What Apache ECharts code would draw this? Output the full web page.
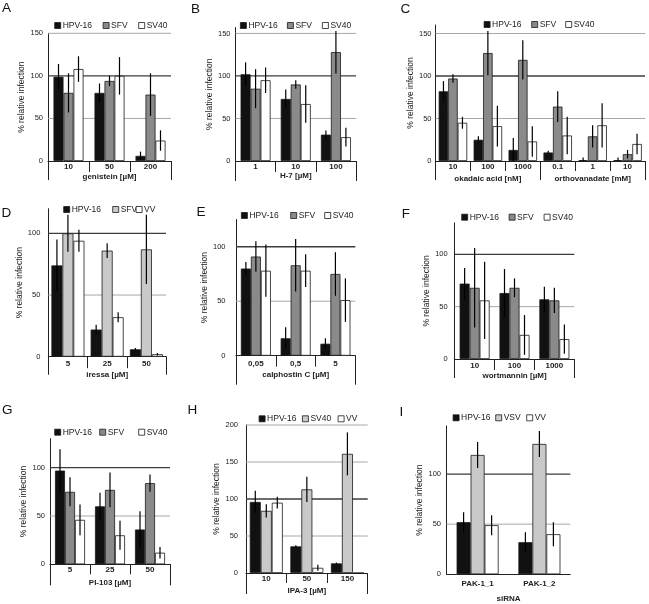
<!DOCTYPE html>
<html><head><meta charset="utf-8">
<script src="https://cdn.jsdelivr.net/npm/echarts@6/dist/echarts.min.js"></script>
<style>html,body{margin:0;padding:0;background:#fff}#c{width:649px;height:604px}</style>
</head><body><div id="c"></div><script>
// ---------------- DATA ----------------
const catsA = ['10','50','200'];           const groupsA = ['genistein [µM]'];
const namesA = ['HPV-16','SFV','SV40'];
const hpvA = [99, 80, 6];   const hpvAerr = [15, 11, 5];
const sfvA = [80, 94, 78];  const sfvAerr = [23, 6, 25];
const sv40A = [108, 100, 24]; const sv40Aerr = [15, 22, 12];
const gridA = [50, 100, 150]; const ticksA = [0, 50, 100, 150];

const catsB = ['1','10','100'];            const groupsB = ['H-7 [µM]'];
const namesB = ['HPV-16','SFV','SV40'];
const hpvB = [102, 73, 31]; const hpvBerr = [14, 11, 5];
const sfvB = [85, 90, 128]; const sfvBerr = [23, 5, 25];
const sv40B = [95, 67, 28]; const sv40Berr = [15, 22, 11];
const gridB = [50, 100, 150]; const ticksB = [0, 50, 100, 150];

const catsC = ['10','100','1000','0.1','1','10']; const groupsC = ['okadaic acid [nM]','orthovanadate [mM]'];
const namesC = ['HPV-16','SFV','SV40'];
const hpvC = [82, 25, 13, 10, 1, 1];      const hpvCerr = [12, 4, 14, 2, 3, 3];
const sfvC = [97, 127, 119, 64, 29, 8];   const sfvCerr = [5, 26, 23, 18, 13, 5];
const sv40C = [45, 41, 23, 30, 42, 20];   const sv40Cerr = [7, 24, 18, 22, 26, 12];
const gridC = [50, 100, 150]; const ticksC = [0, 50, 100, 150];

const catsD = ['5','25','50'];             const groupsD = ['iressa [µM]'];
const namesD = ['HPV-16','SFV','VV'];
const hpvD = [74, 22, 6];   const hpvDerr = [21, 4, 1];
const sfvD = [100, 86, 87]; const sfvDerr = [15, 6, 28];
const vvD = [94, 32, 2];    const vvDerr = [9, 4, 1];
const gridD = [50, 100]; const ticksD = [0, 50, 100];

const catsE = ['0,05','0,5','5'];          const groupsE = ['calphostin C [µM]'];
const namesE = ['HPV-16','SFV','SV40'];
const hpvE = [80, 16, 11];  const hpvEerr = [6, 10, 5];
const sfvE = [91, 83, 75];  const sfvEerr = [14, 24, 20];
const sv40E = [78, 78, 51]; const sv40Eerr = [24, 15, 20];
const gridE = [50, 100]; const ticksE = [0, 50, 100];

const catsF = ['10','100','1000'];         const groupsF = ['wortmannin [µM]'];
const namesF = ['HPV-16','SFV','SV40'];
const hpvF = [72, 63, 57];  const hpvFerr = [15, 23, 12];
const sfvF = [68, 68, 56];  const sfvFerr = [38, 9, 12];
const sv40F = [56, 23, 19]; const sv40Ferr = [37, 19, 14];
const gridF = [50, 100]; const ticksF = [0, 50, 100];

const catsG = ['5','25','50'];             const groupsG = ['PI-103 [µM]'];
const namesG = ['HPV-16','SFV','SV40'];
const hpvG = [97, 60, 36];  const hpvGerr = [22, 14, 19];
const sfvG = [75, 77, 84];  const sfvGerr = [15, 18, 9];
const sv40G = [46, 30, 12]; const sv40Gerr = [16, 15, 6];
const gridG = [50, 100]; const ticksG = [0, 50, 100];

const catsH = ['10','50','150'];           const groupsH = ['IPA-3 [µM]'];
const namesH = ['HPV-16','SV40','VV'];
const hpvH = [96, 36, 13];  const hpvHerr = [15, 1.5, 1];
const sv40H = [84, 113, 161]; const sv40Herr = [9, 17, 29];
const vvH = [95, 7, 0];     const vvHerr = [8, 4, 0];
const gridH = [50, 100, 150, 200]; const ticksH = [0, 50, 100, 150, 200];

const catsI = ['PAK-1_1','PAK-1_2'];       const groupsI = ['siRNA'];
const namesI = ['HPV-16','VSV','VV'];
const hpvI = [52, 32];   const hpvIerr = [10, 10];
const vsvI = [119, 130]; const vsvIerr = [13, 13];
const vvI = [49, 40];    const vvIerr = [10, 12];
const gridI = [50, 100]; const ticksI = [0, 50, 100];

// ---------------- STYLE / LAYOUT ----------------
const FONT = 'Liberation Sans';
const TXT = '#222';
const BLACK = '#111', GRAY = '#8a8a8a', LIGHT = '#c9c9c9', WHITE = '#ffffff';
const C3 = [BLACK, GRAY, WHITE], C3L = [BLACK, LIGHT, WHITE];

const panels = [
 {letter:'A', lx:8, ly:8.5, cats:catsA, groups:groupsA, names:namesA, vals:[hpvA,sfvA,sv40A], errs:[hpvAerr,sfvAerr,sv40Aerr], colors:C3, grid:gridA, ticks:ticksA,
  x:48, right:171, top:33.3, y0:161, max:150, bw:10, divLen:11, outLen:19, catM:2, grpM:11.5, labM:5, nameGap:21.8, legY:25, legX:[54.3,102.7,138.3]},
 {letter:'B', lx:197, ly:9, cats:catsB, groups:groupsB, names:namesB, vals:[hpvB,sfvB,sv40B], errs:[hpvBerr,sfvBerr,sv40Berr], colors:C3, grid:gridB, ticks:ticksB,
  x:235.5, right:356, top:27.5, y0:161, max:157, bw:10, divLen:11, outLen:20, catM:1.5, grpM:11, labM:5, nameGap:21, legY:25, legX:[240,287,322]},
 {letter:'C', lx:406.5, ly:9, cats:catsC, groups:groupsC, names:namesC, vals:[hpvC,sfvC,sv40C], errs:[hpvCerr,sfvCerr,sv40Cerr], colors:C3, grid:gridC, ticks:ticksC,
  x:435.5, right:645, top:25, y0:161, max:160, bw:9.5, divLen:10, outLen:19, catM:1.5, grpM:13.5, labM:4, nameGap:15, legY:24, legX:[483.7,531.3,565.3]},
 {letter:'D', lx:7.5, ly:213, cats:catsD, groups:groupsD, names:namesD, vals:[hpvD,sfvD,vvD], errs:[hpvDerr,sfvDerr,vvDerr], colors:C3L, grid:gridD, ticks:ticksD,
  x:48.3, right:166, top:208.7, y0:356.7, max:120, bw:11, divLen:11.5, outLen:18, catM:3, grpM:14.5, labM:8, nameGap:20.5, legY:209, legX:[63.3,112.3,135.7]},
 {letter:'E', lx:202.5, ly:212, cats:catsE, groups:groupsE, names:namesE, vals:[hpvE,sfvE,sv40E], errs:[hpvEerr,sfvEerr,sv40Eerr], colors:C3, grid:gridE, ticks:ticksE,
  x:236, right:355.3, top:219.5, y0:355.7, max:125, bw:10, divLen:11, outLen:29, catM:4, grpM:15, labM:10.5, nameGap:19.5, legY:215, legX:[241,290.3,324.3]},
 {letter:'F', lx:407.7, ly:214, cats:catsF, groups:groupsF, names:namesF, vals:[hpvF,sfvF,sv40F], errs:[hpvFerr,sfvFerr,sv40Ferr], colors:C3, grid:gridF, ticks:ticksF,
  x:454.7, right:574.3, top:222.9, y0:359, max:130, bw:10, divLen:11, outLen:19, catM:2.5, grpM:13, labM:7, nameGap:17, legY:216.7, legX:[461.3,508.7,543.7]},
 {letter:'G', lx:8, ly:410.5, cats:catsG, groups:groupsG, names:namesG, vals:[hpvG,sfvG,sv40G], errs:[hpvGerr,sfvGerr,sv40Gerr], colors:C3, grid:gridG, ticks:ticksG,
  x:50, right:170, top:438.7, y0:564.3, max:130, bw:10, divLen:10, outLen:21, catM:1, grpM:14, labM:5, nameGap:20.5, legY:431.7, legX:[54.3,99.3,138.3]},
 {letter:'H', lx:193.5, ly:410.5, cats:catsH, groups:groupsH, names:namesH, vals:[hpvH,sv40H,vvH], errs:[hpvHerr,sv40Herr,vvHerr], colors:C3L, grid:gridH, ticks:ticksH,
  x:246, right:367.7, top:425, y0:573, max:200, bw:11, divLen:10, outLen:21, catM:2, grpM:14, labM:8, nameGap:20.5, legY:418.3, legX:[258.7,302,337.7]},
 {letter:'I', lx:405.5, ly:412, cats:catsI, groups:groupsI, names:namesI, vals:[hpvI,vsvI,vvI], errs:[hpvIerr,vsvIerr,vvIerr], colors:C3L, grid:gridI, ticks:ticksI,
  x:446.7, right:570.3, top:425.9, y0:574.3, max:148, bw:14, divLen:0, outLen:0, catM:5, grpM:20, labM:5.7, nameGap:21, legY:417.3, legX:[452.7,495.3,526.3]}
];

const grids = [], xAxes = [], yAxes = [], series = [], legends = [], graphics = [];

panels.forEach((p, i) => {
  grids.push({left: p.x, top: p.top, width: p.right - p.x, height: p.y0 - p.top, containLabel: false});
  const axLine = {show: true, lineStyle: {color: TXT, width: 1}};
  xAxes.push({
    type: 'category', gridIndex: i, data: p.cats, position: 'bottom',
    axisLine: axLine,
    axisTick: {show: p.divLen > 0, interval: 0, alignWithLabel: false, length: p.divLen, lineStyle: {color: TXT, width: 1}},
    axisLabel: {interval: 0, margin: p.catM, fontSize: 8, fontWeight: 'bold', color: TXT, fontFamily: FONT},
    splitLine: {show: false}
  });
  xAxes.push({
    type: 'category', gridIndex: i, data: p.groups, position: 'bottom',
    axisLine: {show: false},
    axisTick: {show: p.outLen > 0, interval: 0, alignWithLabel: false, length: p.outLen, lineStyle: {color: TXT, width: 1}},
    axisLabel: {interval: 0, margin: p.grpM, fontSize: 8, fontWeight: 'bold', color: TXT, fontFamily: FONT},
    splitLine: {show: false}
  });
  const ticks = p.ticks;
  yAxes.push({
    type: 'value', gridIndex: i, min: 0, max: p.max, interval: 50,
    name: '% relative infection', nameLocation: 'middle', nameGap: p.nameGap, nameRotate: 90,
    nameTextStyle: {fontSize: 8.5, color: TXT, fontFamily: FONT},
    axisLine: axLine, axisTick: {show: false}, splitLine: {show: false},
    axisLabel: {margin: p.labM, fontSize: 7.5, color: TXT, fontFamily: FONT,
      formatter: v => ticks.indexOf(v) >= 0 ? String(v) : ''}
  });
  series.push({
    type: 'custom', xAxisIndex: 2 * i, yAxisIndex: i, z: 1, silent: true, animation: false,
    data: p.grid.map(v => [0, v]), encode: {x: 0, y: 1},
    renderItem: (params, api) => {
      const cs = params.coordSys;
      const v = api.value(1);
      const y = api.coord([0, v])[1];
      return {type: 'line', shape: {x1: cs.x, y1: y, x2: cs.x + cs.width, y2: y},
        style: {stroke: v === 100 ? '#3c3c3c' : '#a8a8a8', lineWidth: v === 100 ? 1.3 : 1}};
    }
  });
  const n = p.names.length;
  p.names.forEach((nm, k) => {
    series.push({
      type: 'bar', name: nm, xAxisIndex: 2 * i, yAxisIndex: i, z: 2, animation: false,
      data: p.vals[k], barWidth: p.bw, barGap: '0%',
      itemStyle: {color: p.colors[k], borderColor: '#1a1a1a', borderWidth: 0.8}
    });
    const off = (k - (n - 1) / 2) * p.bw;
    series.push({
      type: 'custom', xAxisIndex: 2 * i, yAxisIndex: i, z: 3, silent: true, animation: false,
      data: p.vals[k].map((v, j) => [j, v, p.errs[k][j]]), encode: {x: 0, y: 1},
      renderItem: (params, api) => {
        const c = api.value(0), v = api.value(1), e = api.value(2);
        if (!e) return null;
        const x = api.coord([c, v])[0] + off;
        const yHi = api.coord([c, v + e])[1];
        const yLo = api.coord([c, Math.max(0, v - e)])[1];
        return {type: 'line', shape: {x1: x, y1: yHi, x2: x, y2: yLo}, style: {stroke: '#000', lineWidth: 1.2}};
      }
    });
    legends.push({
      left: p.legX[k], top: p.legY - 4, padding: 0, itemWidth: 6, itemHeight: 6, icon: 'rect',
      selectedMode: false, itemGap: 0,
      data: [{name: nm, itemStyle: {color: p.colors[k], borderColor: '#1a1a1a', borderWidth: 0.8}}],
      textStyle: {fontSize: 8.5, color: TXT, fontFamily: FONT, padding: [0, 0, 0, -3]}
    });
  });
  graphics.push({type: 'text', left: p.lx - 6, top: p.ly - 7,
    style: {text: p.letter, font: '13.5px "Liberation Sans"', fill: '#111'}});
});

const chart = echarts.init(document.getElementById('c'), null, {renderer: 'canvas'});
chart.setOption({
  backgroundColor: '#fff', animation: false,
  grid: grids, xAxis: xAxes, yAxis: yAxes, series: series, legend: legends, graphic: graphics
});
</script></body></html>
